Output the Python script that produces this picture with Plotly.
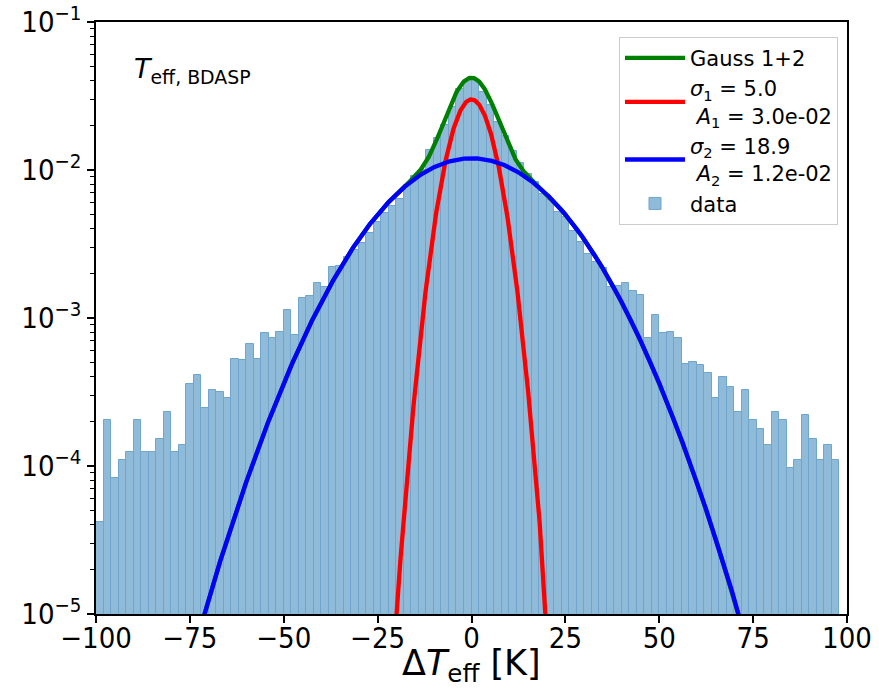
import numpy as np
import plotly.graph_objects as go

# ---- data ----
bin_edges_left = list(range(-100, 98, 2))   # 99 bins of width 2 K, -100 ... 98
bin_width = 2.0
hist_density = [
    4.2e-5, 2.05e-4, 8.3e-5, 1.1e-4, 1.24e-4, 2.05e-4, 1.24e-4, 1.24e-4, 1.52e-4, 2.32e-4,
    1.24e-4, 1.39e-4, 3.58e-4, 4.12e-4, 2.47e-4, 3.26e-4, 3.16e-4, 2.88e-4, 5.28e-4, 5.2e-4,
    6.67e-4, 5.28e-4, 7.9e-4, 7.3e-4, 8.0e-4, 1.13e-3, 7.67e-4, 1.36e-3, 1.41e-3, 1.73e-3,
    1.63e-3, 2.22e-3, 2.25e-3, 2.6e-3, 2.88e-3, 3.2e-3, 3.78e-3, 4.48e-3, 5.1e-3, 5.71e-3,
    6.4e-3, 7.9e-3, 9.1e-3, 1.0e-2, 1.365e-2, 1.64e-2, 2.01e-2, 2.68e-2, 3.5e-2, 4.06e-2,
    4.06e-2, 3.39e-2, 2.75e-2, 2.12e-2, 1.7e-2, 1.35e-2, 1.11e-2, 9.4e-3, 8.34e-3, 6.9e-3,
    6.27e-3, 5.23e-3, 4.83e-3, 3.89e-3, 3.28e-3, 2.71e-3, 2.4e-3, 2.17e-3, 1.63e-3, 1.65e-3,
    1.73e-3, 1.53e-3, 1.43e-3, 7.3e-4, 1.05e-3, 7.96e-4, 8.08e-4, 7.3e-4, 4.89e-4, 5.01e-4,
    4.81e-4, 4.23e-4, 2.9e-4, 3.99e-4, 3.42e-4, 2.32e-4, 3.26e-4, 2.05e-4, 1.78e-4, 1.39e-4,
    2.32e-4, 2.05e-4, 9.7e-5, 1.1e-4, 2.21e-4, 1.52e-4, 1.1e-4, 1.39e-4, 1.1e-4,
]

# fitted Gaussian parameters (from the legend)
sigma1, amp1 = 5.0, 3.0e-2
sigma2, amp2 = 18.9, 1.2e-2

x_ticks = [-100, -75, -50, -25, 0, 25, 50, 75, 100]
y_tick_exponents = [-5, -4, -3, -2, -1]

# ---- derived ----
centers = [l + bin_width / 2 for l in bin_edges_left]
xg = np.linspace(-100, 100, 1201)
g1 = amp1 * np.exp(-xg**2 / (2 * sigma1**2))
g2 = amp2 * np.exp(-xg**2 / (2 * sigma2**2))
gsum = g1 + g2

FONT = "DejaVu Sans"
TICKFONT = "DejaVu Sans Condensed, DejaVu Sans"
fig = go.Figure()
fig.add_trace(go.Bar(
    x=centers, y=hist_density, width=bin_width,
    marker=dict(color="#8fbbd9", line=dict(color="#6fa6cf", width=1)),
    name="data", legendrank=4,
))
fig.add_trace(go.Scatter(x=xg, y=gsum, mode="lines", line=dict(color="#008000", width=4.3),
                         name="Gauss 1+2", legendrank=1))
fig.add_trace(go.Scatter(x=xg, y=g1, mode="lines", line=dict(color="#ff0000", width=4.3),
                         name="<i>σ</i><sub>1</sub> = 5.0<br> <i>A</i><sub>1</sub> = 3.0e-02", legendrank=2))
fig.add_trace(go.Scatter(x=xg, y=g2, mode="lines", line=dict(color="#0000ff", width=4.3),
                         name="<i>σ</i><sub>2</sub> = 18.9<br> <i>A</i><sub>2</sub> = 1.2e-02", legendrank=3))

fig.update_layout(
    width=879, height=691,
    margin=dict(l=96, r=32, t=22, b=77, autoexpand=False),
    paper_bgcolor="white", plot_bgcolor="white",
    font=dict(family=FONT, size=26, color="black"),
    bargap=0,
    showlegend=True,
    legend=dict(
        x=0.988, y=0.975, xanchor="right", yanchor="top",
        bgcolor="rgba(255,255,255,0.8)", bordercolor="#cccccc", borderwidth=1,
        font=dict(family=FONT, size=21, color="black"),
        itemwidth=60,
        tracegroupgap=4,
    ),
    annotations=[
        dict(x=0.048, y=0.918, xref="paper", yref="paper", xanchor="left", yanchor="middle",
             text="<i>T</i><sub>eff, BDASP</sub>", showarrow=False,
             font=dict(family=FONT, size=27, color="black")),
        dict(x=0.5, y=-0.087, xref="paper", yref="paper", xanchor="center", yanchor="middle",
             text="Δ<i>T</i><sub>eff</sub> [K]", showarrow=False,
             font=dict(family=FONT, size=35, color="black")),
    ],
)
fig.update_xaxes(
    range=[-100, 100], tickvals=x_ticks,
    ticktext=[("−" if v < 0 else "") + str(abs(v)) for v in x_ticks],
    ticks="outside", ticklen=7, tickwidth=1.5, tickcolor="black",
    ticklabelstandoff=-10,
    showline=True, linecolor="black", linewidth=1.5, mirror=True,
    showgrid=False, zeroline=False, automargin=False,
    tickfont=dict(family=TICKFONT, size=29),
)
fig.update_yaxes(
    type="log", range=[-5, -1],
    tickvals=[10.0**e for e in y_tick_exponents],
    ticktext=["10<sup>−%d</sup>" % (-e) for e in y_tick_exponents],
    ticks="outside", ticklen=7, tickwidth=1.5, tickcolor="black",
    minor=dict(ticks="outside", ticklen=4, tickwidth=1, tickcolor="black", dtick="D1", showgrid=False),
    showline=True, linecolor="black", linewidth=1.5, mirror=True,
    showgrid=False, zeroline=False, automargin=False,
    tickfont=dict(family=TICKFONT, size=29),
)

fig.write_html("out.html")
